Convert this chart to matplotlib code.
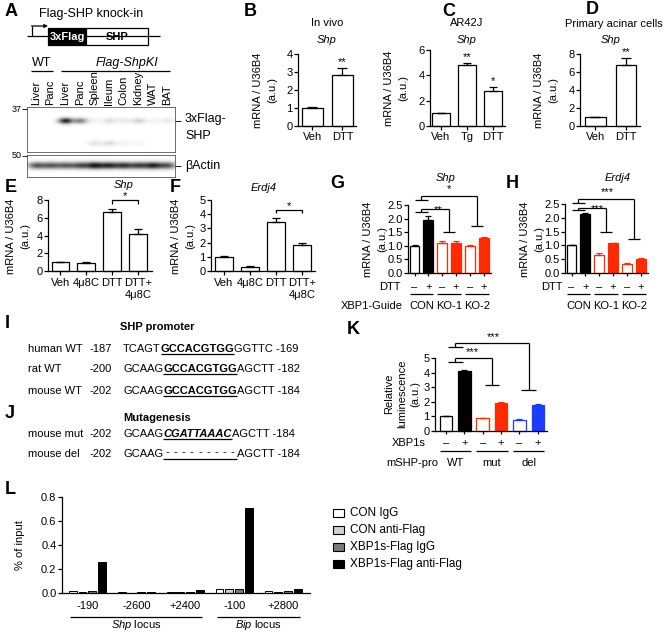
import numpy as np
import matplotlib
matplotlib.use("Agg")
import matplotlib.pyplot as plt
from matplotlib.patches import Rectangle

plt.rcParams['font.family'] = ['Liberation Sans', 'DejaVu Sans']
plt.rcParams['font.size'] = 8
plt.rcParams['mathtext.fontset'] = 'custom'
plt.rcParams['mathtext.it'] = 'Liberation Sans:italic'
plt.rcParams['mathtext.rm'] = 'Liberation Sans'

# ---------------- data ----------------
lanes = ['Liver', 'Panc', 'Liver', 'Panc', 'Spleen', 'Ileum', 'Colon', 'Kidney', 'WAT', 'BAT']
flag_band = [0.0, 0.0, 1.0, 0.55, 0.05, 0.15, 0.1, 0.2, 0.05, 0.1]
flag_low = [0.0, 0.0, 0.0, 0.0, 0.12, 0.15, 0.05, 0.05, 0.0, 0.0]
actin_band = [0.7, 0.65, 0.65, 0.7, 0.95, 0.85, 0.8, 0.75, 0.9, 0.7]

B_cats = ['Veh', 'DTT']
B_vals = [1.0, 2.85]
B_err = [0.04, 0.35]

C_cats = ['Veh', 'Tg', 'DTT']
C_vals = [1.0, 4.8, 2.8]
C_err = [0.04, 0.15, 0.3]

D_cats = ['Veh', 'DTT']
D_vals = [1.0, 6.8]
D_err = [0.05, 0.75]

E_cats = ['Veh', '4\u03bc8C', 'DTT', 'DTT+\n4\u03bc8C']
E_vals = [1.0, 0.95, 6.7, 4.2]
E_err = [0.05, 0.05, 0.3, 0.55]

F_cats = ['Veh', '4\u03bc8C', 'DTT', 'DTT+\n4\u03bc8C']
F_vals = [1.0, 0.3, 3.45, 1.8]
F_err = [0.03, 0.02, 0.3, 0.15]

GH_dtt = ['\u2013', '+', '\u2013', '+', '\u2013', '+']
GH_groups = ['CON', 'KO-1', 'KO-2']
G_vals = [1.0, 1.95, 1.12, 1.12, 1.0, 1.3]
G_err = [0.03, 0.15, 0.06, 0.04, 0.02, 0.04]
H_vals = [1.0, 2.12, 0.65, 1.07, 0.34, 0.52]
H_err = [0.03, 0.04, 0.07, 0.02, 0.01, 0.01]

K_xbp = ['\u2013', '+', '\u2013', '+', '\u2013', '+']
K_groups = ['WT', 'mut', 'del']
K_vals = [1.0, 4.1, 0.87, 1.95, 0.78, 1.8]
K_err = [0.02, 0.05, 0.03, 0.04, 0.02, 0.03]

L_sites = ['-190', '-2600', '+2400', '-100', '+2800']
L_series = ['CON IgG', 'CON anti-Flag', 'XBP1s-Flag IgG', 'XBP1s-Flag anti-Flag']
L_con_igg = [0.015, 0.005, 0.006, 0.03, 0.013]
L_con_flag = [0.012, 0.004, 0.006, 0.035, 0.012]
L_xbp_igg = [0.014, 0.005, 0.01, 0.03, 0.016]
L_xbp_flag = [0.26, 0.01, 0.022, 0.71, 0.035]

RED = '#ff2a00'
BLUE = '#1a3cff'

W, H = 667, 632
fig = plt.figure(figsize=(W / 100, H / 100), dpi=100)
fig.patch.set_facecolor('white')

P = fig.add_axes([0, 0, 1, 1], zorder=10)
P.set_xlim(0, W)
P.set_ylim(H, 0)
P.axis('off')
P.patch.set_visible(False)
R = fig.canvas.get_renderer()

LW = 0.9


def line(xs, ys, c='k', lw=LW):
    P.plot(xs, ys, color=c, lw=lw, solid_capstyle='butt', clip_on=False)


def txt(x, y, s, **kw):
    d = dict(ha='center', va='center', fontsize=8)
    d.update(kw)
    return P.text(x, y, s, **d)


class PA:
    def __init__(self, l, t, r, b, xlim, ylim):
        self.l, self.t, self.r, self.b = l, t, r, b
        self.xlim, self.ylim = xlim, ylim
        ax = fig.add_axes([l / W, 1 - b / H, (r - l) / W, (b - t) / H])
        ax.set_xlim(*xlim)
        ax.set_ylim(*ylim)
        ax.patch.set_visible(False)
        for s in ['top', 'right']:
            ax.spines[s].set_visible(False)
        for s in ['left', 'bottom']:
            ax.spines[s].set_linewidth(LW)
        ax.tick_params(direction='out', length=3, width=LW, labelsize=8, pad=1)
        self.ax = ax

    def px(self, x):
        return self.l + (x - self.xlim[0]) / (self.xlim[1] - self.xlim[0]) * (self.r - self.l)

    def py(self, y):
        return self.b - (y - self.ylim[0]) / (self.ylim[1] - self.ylim[0]) * (self.b - self.t)


def barplot(pa, vals, errs, faces, edges, width, cap):
    ax = pa.ax
    xs = np.arange(len(vals))
    for x, v, e, fc, ec in zip(xs, vals, errs, faces, edges):
        ax.bar(x, v, width, color=fc, edgecolor=ec, linewidth=LW, zorder=2, clip_on=False)
        ax.errorbar(x, v, yerr=[[0], [e]], color=ec, capsize=cap, elinewidth=LW,
                    capthick=LW, zorder=3, clip_on=False)
    ax.set_xticks(xs)
    return xs


def ylabel2(x1, x2, yc, l1='mRNA / U36B4', l2='(a.u.)'):
    txt(x1, yc, l1, rotation=90)
    txt(x2, yc, l2, rotation=90)


def panel(x, y, s):
    txt(x, y, s, fontsize=13, fontweight='bold', ha='left')


def bracket(pa, src, xt, y_src, y_top, y_tgt, half=0.4):
    xs0, xs1 = pa.px(src - half), pa.px(src + half)
    xm = pa.px(src)
    line([xs0, xs1], [pa.py(y_src)] * 2)
    line([xm, xm], [pa.py(y_src), pa.py(y_top)])
    line([xm, pa.px(xt)], [pa.py(y_top)] * 2)
    line([pa.px(xt)] * 2, [pa.py(y_top), pa.py(y_tgt)])
    line([pa.px(xt - half), pa.px(xt + half)], [pa.py(y_tgt)] * 2)


# ---------------- Panel A ----------------
panel(5, 12, 'A')
txt(91, 14, 'Flag-SHP knock-in', fontsize=9)
line([27, 160], [36, 36])
line([32, 32], [36, 26])
P.annotate('', xy=(48, 26), xytext=(31.6, 26),
           arrowprops=dict(arrowstyle='-|>', lw=LW, color='k', mutation_scale=5,
                           shrinkA=0, shrinkB=0))
P.add_patch(Rectangle((48, 28), 38, 17, facecolor='black', edgecolor='black', lw=LW))
P.add_patch(Rectangle((86, 28), 62, 17, facecolor='white', edgecolor='black', lw=LW))
txt(67, 36.5, '3xFlag', color='white', fontweight='bold')
txt(117, 36.5, 'SHP', fontweight='bold')
txt(42, 63, 'WT', fontsize=9)
line([31, 53], [71, 71])
txt(127, 63, 'Flag-ShpKI', fontsize=9, style='italic')
line([61, 170], [71, 71])
lane_x = [36 + 14.6 * i for i in range(len(lanes))]
for x, s in zip(lane_x, lanes):
    txt(x, 105, s, rotation=90, va='bottom')

# blots
blot_l, blot_r = 27, 175


def blot(t, b, bands):
    ax = fig.add_axes([blot_l / W, 1 - b / H, (blot_r - blot_l) / W, (b - t) / H])
    w, h = blot_r - blot_l, b - t
    xx = np.arange(w)[None, :]
    yy = np.arange(h)[:, None]
    img = np.zeros((h, w))
    for yc, sy, sx, amps in bands:
        for x, a in zip(lane_x, amps):
            img += a * np.exp(-((xx - (x - blot_l)) ** 2) / (2 * sx ** 2)
                              - ((yy - yc) ** 2) / (2 * sy ** 2))
    ax.imshow(np.clip(img, 0, 1), cmap='gray_r', vmin=0, vmax=1.15, aspect='auto',
              interpolation='bilinear')
    ax.set_xticks([])
    ax.set_yticks([])
    for s in ax.spines.values():
        s.set_linewidth(0.6)
        s.set_color('#555555')


blot(107, 152, [(14, 2.0, 5.0, flag_band), (36, 2.0, 5.0, flag_low)])
blot(155, 177, [(10, 2.5, 6.5, actin_band)])
txt(17, 109, '37', fontsize=6.5)
line([22, 27], [109, 109], lw=0.6)
txt(17, 156, '50', fontsize=6.5)
line([22, 27], [156, 156], lw=0.6)
line([175, 181], [121, 121], lw=0.6)
line([175, 181], [166, 166], lw=0.6)
txt(185, 119, '3xFlag-', fontsize=9, ha='left')
txt(185, 136, 'SHP', fontsize=9, ha='left')
txt(185, 166, '\u03b2Actin', fontsize=9, ha='left')

# ---------------- Panel B ----------------
panel(244, 12, 'B')
pB = PA(298, 54, 356, 126, (-0.48, 1.45), (0, 4))
barplot(pB, B_vals, B_err, ['white'] * 2, ['k'] * 2, 0.7, 3.5)
pB.ax.set_yticks([0, 1, 2, 3, 4])
pB.ax.set_xticklabels(B_cats)
txt(pB.px(0.48), 23, 'In vivo')
txt(pB.px(0.48), 40, 'Shp', style='italic')
ylabel2(258, 272, 90)
txt(pB.px(1), pB.py(B_vals[1] + B_err[1]) - 6, '**')

# ---------------- Panel C ----------------
panel(442, 12, 'C')
pC = PA(430, 50, 505, 126, (-0.42, 2.46), (0, 6))
barplot(pC, C_vals, C_err, ['white'] * 3, ['k'] * 3, 0.7, 3)
pC.ax.set_yticks([0, 2, 4, 6])
pC.ax.set_xticklabels(C_cats)
txt(pC.px(1), 23, 'AR42J')
txt(pC.px(1), 40, 'Shp', style='italic')
ylabel2(389, 403, 88)
txt(pC.px(1), pC.py(C_vals[1] + C_err[1]) - 6, '**')
txt(pC.px(2), pC.py(C_vals[2] + C_err[2]) - 6, '*')

# ---------------- Panel D ----------------
panel(586, 10, 'D')
pD = PA(580, 54, 640, 126, (-0.5, 1.46), (0, 8))
barplot(pD, D_vals, D_err, ['white'] * 2, ['k'] * 2, 0.68, 3.5)
pD.ax.set_yticks([0, 2, 4, 6, 8])
pD.ax.set_xticklabels(D_cats)
txt(614, 24, 'Primary acinar cells')
txt(pD.px(0.5), 40, 'Shp', style='italic')
ylabel2(539, 553, 90)
txt(pD.px(1), pD.py(D_vals[1] + D_err[1]) - 6, '**')

# ---------------- Panel E ----------------
panel(5, 187, 'E')
pE = PA(48, 200, 152, 271, (-0.48, 3.54), (0, 8))
barplot(pE, E_vals, E_err, ['white'] * 4, ['k'] * 4, 0.68, 3)
pE.ax.set_yticks([0, 2, 4, 6, 8])
pE.ax.set_xticklabels(E_cats, linespacing=1.3)
pE.ax.tick_params(axis='x', pad=2)
txt(124, 185, 'Shp', style='italic')
ylabel2(11, 25, 236)
line([pE.px(2), pE.px(2), pE.px(3), pE.px(3)],
     [pE.py(7.55), pE.py(7.95), pE.py(7.95), pE.py(7.55)])
txt(pE.px(2.5), pE.py(7.95) - 4, '*')

# ---------------- Panel F ----------------
panel(170, 187, 'F')
pF = PA(211, 200, 315, 271, (-0.5, 3.5), (0, 5))
barplot(pF, F_vals, F_err, ['white'] * 4, ['k'] * 4, 0.68, 3)
pF.ax.set_yticks([0, 1, 2, 3, 4, 5])
pF.ax.set_xticklabels(F_cats, linespacing=1.3)
pF.ax.tick_params(axis='x', pad=2)
txt(264, 188, 'Erdj4', style='italic')
ylabel2(176, 190, 236)
line([pF.px(2), pF.px(2), pF.px(3), pF.px(3)],
     [pF.py(4.05), pF.py(4.3), pF.py(4.3), pF.py(4.05)])
txt(pF.px(2.5), pF.py(4.3) - 4, '*')


# ---------------- Panels G, H ----------------
def gh_panel(pa, vals, errs, xlab_dtt_right, guide):
    faces = ['white', 'black', 'white', RED, 'white', RED]
    edges = ['k', 'k', RED, RED, RED, RED]
    xs = barplot(pa, vals, errs, faces, edges, 0.7, 2)
    pa.ax.set_yticks([0, 0.5, 1.0, 1.5, 2.0, 2.5])
    pa.ax.set_yticklabels(['0.0', '0.5', '1.0', '1.5', '2.0', '2.5'])
    pa.ax.set_xticklabels([])
    pa.ax.tick_params(axis='x', length=2.5)
    for x, s in zip(xs, GH_dtt):
        txt(pa.px(x), 287, s)
    txt(xlab_dtt_right, 287, 'DTT', ha='right')
    for g, name in enumerate(GH_groups):
        line([pa.px(2 * g - 0.35), pa.px(2 * g + 1.35)], [294, 294])
        txt(pa.px(2 * g + 0.5), 306, name)
    if guide:
        txt(xlab_dtt_right + 2, 306, 'XBP1-Guide', ha='right')


panel(330, 184, 'G')
pG = PA(408, 205, 491, 273, (-0.47, 5.53), (0, 2.5))
gh_panel(pG, G_vals, G_err, 401, True)
txt(446, 178, 'Shp', style='italic')
ylabel2(368, 382, 239)
bracket(pG, 0.5, 2.5, 2.25, 2.35, 1.5, 0.45)
bracket(pG, 0.5, 4.5, 2.7, 2.83, 1.73, 0.45)
txt(pG.px(1.7), pG.py(2.35) + 1, '**')
txt(pG.px(2.5), pG.py(2.83) - 7, '*')

panel(506, 184, 'H')
pH = PA(565, 204, 648, 273, (-0.47, 5.53), (0, 2.5))
gh_panel(pH, H_vals, H_err, 563, False)
txt(618, 178, 'Erdj4', style='italic')
ylabel2(525, 539, 239)
bracket(pH, 0.5, 2.5, 2.28, 2.35, 1.48, 0.45)
bracket(pH, 0.5, 4.5, 2.55, 2.68, 1.23, 0.45)
txt(pH.px(1.9), pH.py(2.35) + 1, '***')
txt(pH.px(2.6), pH.py(2.68) - 7, '***')


# ---------------- Panels I, J (sequences) ----------------
def put(x, y, s, **kw):
    d = dict(ha='left', va='baseline', fontsize=8)
    d.update(kw)
    t = P.text(x, y, s, **d)
    return x + t.get_window_extent(R).width


NUM_X, SEQ_X = 89, 123


def seq_row(y, label, num, pre, motif, post, motif_kw):
    put(28, y, label)
    put(NUM_X, y, num)
    x = put(SEQ_X, y, pre)
    x2 = put(x, y, motif, **motif_kw)
    line([x, x2], [y + 2, y + 2])
    put(x2, y, post)
    return x, x2


panel(5, 323, 'I')
txt(157, 327, 'SHP promoter', fontweight='bold')
seq_row(352, 'human WT', '-187', 'TCAGT', 'GCCACGTGG', 'GGTTC -169', dict(fontweight='bold'))
seq_row(372, 'rat WT', '-200', 'GCAAG', 'GCCACGTGG', 'AGCTT -182', dict(fontweight='bold'))
m0, m1 = seq_row(394, 'mouse WT', '-202', 'GCAAG', 'GCCACGTGG', 'AGCTT -184', dict(fontweight='bold'))

panel(5, 413, 'J')
txt(157, 418, 'Mutagenesis', fontweight='bold')
seq_row(437, 'mouse mut', '-202', 'GCAAG', 'CGATTAAAC', 'AGCTT -184',
        dict(fontweight='bold', style='italic'))
put(28, 457, 'mouse del')
put(NUM_X, 457, '-202')
x = put(SEQ_X, 457, 'GCAAG')
for i in range(9):
    txt(x + (i + 0.5) * (m1 - m0) / 9, 455, '-', va='baseline')
line([x, x + (m1 - m0)], [459, 459])
put(x + (m1 - m0), 457, 'AGCTT -184')

# ---------------- Panel K ----------------
panel(347, 329, 'K')
pK = PA(435, 358, 547, 431, (-0.6, 5.5), (0, 5))
faces = ['white', 'black', 'white', RED, 'white', BLUE]
edges = ['k', 'k', RED, RED, BLUE, BLUE]
xs = barplot(pK, K_vals, K_err, faces, edges, 0.68, 2.5)
pK.ax.set_yticks([0, 1, 2, 3, 4, 5])
pK.ax.set_xticklabels([])
pK.ax.tick_params(axis='x', length=2.5)
for x, s in zip(xs, K_xbp):
    txt(pK.px(x), 443, s)
txt(426, 443, 'XBP1s', ha='right')
for g, name in enumerate(K_groups):
    line([pK.px(2 * g - 0.35), pK.px(2 * g + 1.35)], [451, 451])
    txt(pK.px(2 * g + 0.5), 463, name)
txt(438, 463, 'mSHP-pro', ha='right')
txt(389, 394, 'Relative', rotation=90)
txt(402, 394, 'luminescence', rotation=90)
txt(415, 394, '(a.u.)', rotation=90)
bracket(pK, 0.5, 2.5, 4.7, 5.0, 3.15, 0.4)
bracket(pK, 0.5, 4.5, 5.75, 6.0, 2.8, 0.4)
txt(pK.px(1.45), pK.py(5.0) - 6, '***')
txt(pK.px(2.6), pK.py(6.0) - 6, '***')

# ---------------- Panel L ----------------
panel(5, 490, 'L')
pL = PA(62, 497, 310, 593, (-0.52, 4.55), (0, 0.8))
L_cols = ['white', '#d0d0d0', '#7a7a7a', 'black']
L_all = [L_con_igg, L_con_flag, L_xbp_igg, L_xbp_flag]
grp = np.arange(len(L_sites))
offs = [-0.3, -0.1, 0.1, 0.3]
for vals, col, off in zip(L_all, L_cols, offs):
    pL.ax.bar(grp + off, vals, 0.16, color=col, edgecolor='k', linewidth=0.7, zorder=2)
pL.ax.set_yticks([0, 0.2, 0.4, 0.6, 0.8])
pL.ax.set_yticklabels(['0.0', '0.2', '0.4', '0.6', '0.8'])
pL.ax.set_xticks([])
txt(20, 545, '% of input', rotation=90)
for g, s in zip(grp, L_sites):
    txt(pL.px(g), 606, s)
line([pL.px(-0.35), pL.px(2.35)], [617, 617])
line([pL.px(2.65), pL.px(4.35)], [617, 617])
txt(pL.px(1), 625.5, r'$\it{Shp}$ locus')
txt(pL.px(3.5), 625.5, r'$\it{Bip}$ locus')

for i, (name, col) in enumerate(zip(L_series, L_cols)):
    yc = 513 + 17 * i
    P.add_patch(Rectangle((333, yc - 4), 11, 8, facecolor=col, edgecolor='k', lw=0.8))
    txt(350, yc, name, ha='left', fontsize=8.5)

fig.savefig('out.png', dpi=100, facecolor='white')
